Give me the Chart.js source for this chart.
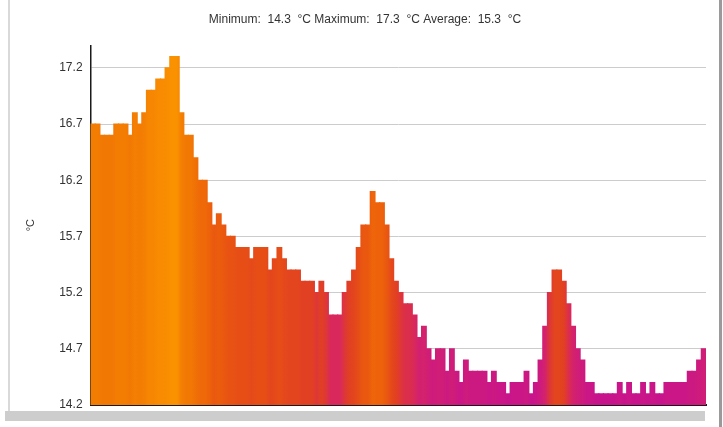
<!DOCTYPE html>
<html>
<head>
<meta charset="utf-8">
<script src="https://cdn.jsdelivr.net/npm/chart.js@4/dist/chart.umd.min.js"></script>
<style>
  html, body { margin: 0; padding: 0; background: #fff; }
  #wrap { position: relative; width: 723px; height: 427px; overflow: hidden; }
  #chart { position: absolute; left: 0; top: 0; }
  .frame-left { position: absolute; left: 8px; top: 0; width: 2px; height: 412px; background: #d9d9d9; }
  .frame-right { position: absolute; left: 719px; top: 0; width: 3px; height: 427px; background: #9a9a9a; }
  .frame-bottom { position: absolute; left: 5px; top: 411px; width: 700px; height: 10px; background: #cdcdcd; }
</style>
</head>
<body>
<div id="wrap">
  <div class="frame-left"></div>
  <div class="frame-right"></div>
  <div class="frame-bottom"></div>
  <canvas id="chart" width="723" height="427"></canvas>
</div>
<script>
// temperature readings, one bar per sample (°C)
const temps = [
  16.7, 16.7, 16.6, 16.6, 16.6, 16.7, 16.7, 16.7, 16.6, 16.8,
  16.7, 16.8, 17.0, 17.0, 17.1, 17.1, 17.2, 17.3, 17.3, 16.8,
  16.6, 16.6, 16.4, 16.2, 16.2, 16.0, 15.8, 15.9, 15.8, 15.7,
  15.7, 15.6, 15.6, 15.6, 15.5, 15.6, 15.6, 15.6, 15.4, 15.5,
  15.6, 15.5, 15.4, 15.4, 15.4, 15.3, 15.3, 15.3, 15.2, 15.3,
  15.2, 15.0, 15.0, 15.0, 15.2, 15.3, 15.4, 15.6, 15.8, 15.8,
  16.1, 16.0, 16.0, 15.8, 15.5, 15.3, 15.2, 15.1, 15.1, 15.0,
  14.8, 14.9, 14.7, 14.6, 14.7, 14.7, 14.5, 14.7, 14.5, 14.4,
  14.6, 14.5, 14.5, 14.5, 14.5, 14.4, 14.5, 14.4, 14.4, 14.3,
  14.4, 14.4, 14.4, 14.5, 14.3, 14.4, 14.6, 14.9, 15.2, 15.4,
  15.4, 15.3, 15.1, 14.9, 14.7, 14.6, 14.4, 14.4, 14.3, 14.3,
  14.3, 14.3, 14.3, 14.4, 14.3, 14.4, 14.3, 14.3, 14.4, 14.3,
  14.4, 14.3, 14.3, 14.4, 14.4, 14.4, 14.4, 14.4, 14.5, 14.5,
  14.6, 14.7
];
const categories = temps.map((_, i) => String(i + 1));
const yTicks = [14.2, 14.7, 15.2, 15.7, 16.2, 16.7, 17.2];
const yMin = 14.2;
const yMax = 17.4;
const summary = 'Minimum:  14.3  °C Maximum:  17.3  °C Average:  15.3  °C';

// value -> colour ramp (magenta for cold, orange for warm)
const ramp = [
  [14.3, [200, 20, 140]],
  [14.9, [212, 34, 108]],
  [15.1, [219, 46, 76]],
  [15.3, [226, 64, 34]],
  [15.6, [230, 78, 22]],
  [16.0, [237, 98, 10]],
  [16.6, [242, 120, 4]],
  [17.3, [250, 146, 0]]
];

function colorFor(v) {
  if (v <= ramp[0][0]) return 'rgb(' + ramp[0][1].join(',') + ')';
  for (let i = 1; i < ramp.length; i++) {
    if (v <= ramp[i][0]) {
      const a = ramp[i - 1], b = ramp[i];
      const t = (v - a[0]) / (b[0] - a[0]);
      const c = a[1].map((x, k) => Math.round(x + (b[1][k] - x) * t));
      return 'rgb(' + c.join(',') + ')';
    }
  }
  return 'rgb(' + ramp[ramp.length - 1][1].join(',') + ')';
}

let cached = null;
function barFill(ctx) {
  const chart = ctx.chart;
  const area = chart.chartArea;
  const xs = chart.scales.x;
  if (!area || !xs) return colorFor(temps[ctx.dataIndex] || 15);
  const key = area.left + ':' + area.right;
  if (cached && cached.key === key) return cached.grad;
  const g = chart.ctx.createLinearGradient(area.left, 0, area.right, 0);
  temps.forEach((v, i) => {
    const p = (xs.getPixelForValue(i) - area.left) / (area.right - area.left);
    g.addColorStop(Math.min(1, Math.max(0, p)), colorFor(v));
  });
  cached = { key: key, grad: g };
  return g;
}

Chart.defaults.font.family = '"Liberation Sans", Arial, sans-serif';
Chart.defaults.color = '#333';

new Chart(document.getElementById('chart').getContext('2d'), {
  type: 'bar',
  data: {
    labels: categories,
    datasets: [{
      label: '°C',
      data: temps,
      backgroundColor: barFill,
      borderWidth: 0,
      barPercentage: 1.0,
      categoryPercentage: 1.0,
      inflateAmount: 0.6,
      base: yMin
    }]
  },
  options: {
    responsive: false,
    animation: false,
    layout: { padding: { left: 24, right: 17, top: 6, bottom: 14 } },
    plugins: {
      legend: { display: false },
      tooltip: { enabled: false },
      title: {
        display: true,
        text: summary,
        font: { size: 12, weight: 'normal' },
        color: '#333',
        padding: { top: 6, bottom: 19 }
      }
    },
    scales: {
      x: {
        type: 'category',
        offset: true,
        grid: { display: false },
        ticks: { display: false },
        border: { color: '#1a1a1a', width: 2 }
      },
      y: {
        min: yMin,
        max: yMax,
        afterBuildTicks(scale) {
          scale.ticks = yTicks.map(v => ({ value: v }));
        },
        ticks: {
          font: { size: 12 },
          color: '#333',
          padding: 8,
          callback: v => v.toFixed(1)
        },
        grid: { color: '#cccccc', lineWidth: 1, drawTicks: false },
        border: { color: '#1a1a1a', width: 1.5 },
        title: {
          display: true,
          text: '°C',
          font: { size: 11 },
          color: '#333',
          padding: { top: 0, bottom: 14 }
        }
      }
    }
  }
});
</script>
</body>
</html>
